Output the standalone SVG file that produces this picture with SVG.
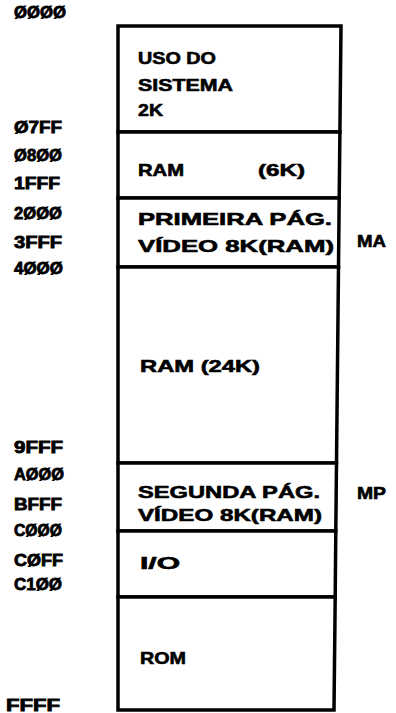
<svg xmlns="http://www.w3.org/2000/svg" width="396" height="713" viewBox="0 0 396 713">
<style>
  .t { font-family: "Liberation Sans", Arial, sans-serif; font-weight: bold; font-size: 17px; fill: #000; stroke: #000; stroke-width: 0.6; }
  .a { font-family: "Liberation Sans", Arial, sans-serif; font-weight: bold; font-size: 16px; fill: #000; stroke: #000; stroke-width: 0.8; }
  .box { fill: #fff; stroke: #000; stroke-width: 3.5; stroke-linejoin: miter; }
</style>
<rect width="396" height="713" fill="#fff"/>
<g id="addresses">
  <text class="a" x="14" y="18" textLength="52" lengthAdjust="spacingAndGlyphs">ØØØØ</text>
  <text class="a" x="14" y="133" textLength="48" lengthAdjust="spacingAndGlyphs">Ø7FF</text>
  <text class="a" x="14" y="161" textLength="48" lengthAdjust="spacingAndGlyphs">Ø8ØØ</text>
  <text class="a" x="14" y="189" textLength="46" lengthAdjust="spacingAndGlyphs">1FFF</text>
  <text class="a" x="14" y="219" textLength="48" lengthAdjust="spacingAndGlyphs">2ØØØ</text>
  <text class="a" x="14" y="248" textLength="48" lengthAdjust="spacingAndGlyphs">3FFF</text>
  <text class="a" x="14" y="274" textLength="49" lengthAdjust="spacingAndGlyphs">4ØØØ</text>
  <text class="a" x="14" y="453" textLength="49" lengthAdjust="spacingAndGlyphs">9FFF</text>
  <text class="a" x="14" y="480" textLength="50" lengthAdjust="spacingAndGlyphs">AØØØ</text>
  <text class="a" x="14" y="510" textLength="48" lengthAdjust="spacingAndGlyphs">BFFF</text>
  <text class="a" x="14" y="536" textLength="48" lengthAdjust="spacingAndGlyphs">CØØØ</text>
  <text class="a" x="14" y="566" textLength="49" lengthAdjust="spacingAndGlyphs">CØFF</text>
  <text class="a" x="14" y="590" textLength="48" lengthAdjust="spacingAndGlyphs">C1ØØ</text>
  <text class="a" x="6" y="711" textLength="54" lengthAdjust="spacingAndGlyphs">FFFF</text>
</g>
<g id="sistema">
  <polygon class="box" points="118,26 341,26 339.9,132 118,132"/>
  <text class="t" x="138" y="64" textLength="78" lengthAdjust="spacingAndGlyphs">USO DO</text>
  <text class="t" x="138" y="91" textLength="95" lengthAdjust="spacingAndGlyphs">SISTEMA</text>
  <text class="t" x="138" y="116" textLength="25" lengthAdjust="spacingAndGlyphs">2K</text>
</g>
<g id="ram6k">
  <polygon class="box" points="118,132 339.9,132 339.2,198 118,198"/>
  <text class="t" x="138" y="176" textLength="46" lengthAdjust="spacingAndGlyphs">RAM</text>
  <text class="t" x="258" y="176" textLength="47" lengthAdjust="spacingAndGlyphs">(6K)</text>
</g>
<g id="video1">
  <polygon class="box" points="118,198 339.2,198 338.5,267 118,267"/>
  <text class="t" x="138" y="225" textLength="194" lengthAdjust="spacingAndGlyphs">PRIMEIRA PÁG.</text>
  <text class="t" x="138" y="252" textLength="196" lengthAdjust="spacingAndGlyphs">VÍDEO 8K(RAM)</text>
</g>
<g id="ram24k">
  <polygon class="box" points="118,267 338.5,267 336.5,463 118,463"/>
  <text class="t" x="140" y="372" textLength="120" lengthAdjust="spacingAndGlyphs">RAM (24K)</text>
</g>
<g id="video2">
  <polygon class="box" points="118,463 336.5,463 335.8,531 118,531"/>
  <text class="t" x="138" y="498" textLength="182" lengthAdjust="spacingAndGlyphs">SEGUNDA PÁG.</text>
  <text class="t" x="138" y="521" textLength="184" lengthAdjust="spacingAndGlyphs">VÍDEO 8K(RAM)</text>
</g>
<g id="io">
  <polygon class="box" points="118,531 335.8,531 335.2,597 118,597"/>
  <text class="t" x="140" y="569" textLength="40" lengthAdjust="spacingAndGlyphs">I/O</text>
</g>
<g id="rom">
  <polygon class="box" points="118,597 335.2,597 334,710 118,710"/>
  <text class="t" x="140" y="664" textLength="46" lengthAdjust="spacingAndGlyphs">ROM</text>
</g>
<g id="labels">
  <text class="t" x="357" y="247" textLength="29" lengthAdjust="spacingAndGlyphs">MA</text>
  <text class="t" x="357" y="499" textLength="29" lengthAdjust="spacingAndGlyphs">MP</text>
</g>
<g id="connectors"/>
</svg>
